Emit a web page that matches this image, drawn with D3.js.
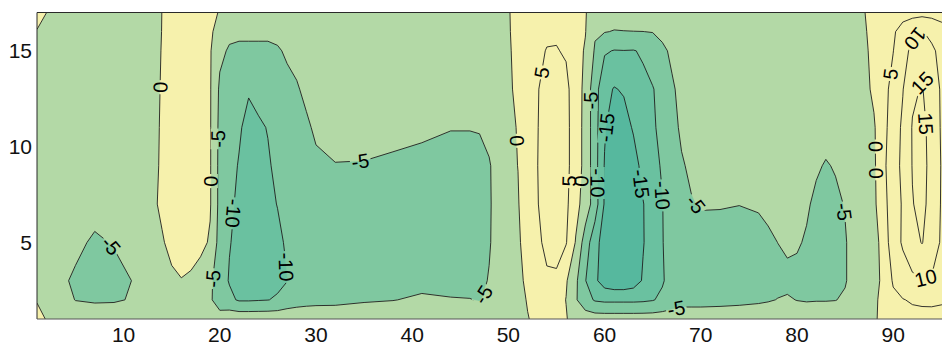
<!DOCTYPE html>
<html>
<head>
<meta charset="utf-8">
<script src="https://cdn.jsdelivr.net/npm/d3@7"></script>
<style>
  html, body { margin: 0; padding: 0; background: #ffffff; }
  svg { display: block; font-family: "Liberation Sans", Arial, sans-serif; }
</style>
</head>
<body>
<svg id="chart" width="942" height="347"></svg>
<script>
// Sample positions of the field
const xs = [1, 3, 5, 7, 9, 11, 13, 14, 15, 16, 17, 18, 19, 20, 21, 22, 23, 24, 25, 26, 27, 28, 29, 30,
            32, 35, 38, 41, 44, 46, 47, 48, 49, 50, 51, 52, 53, 54, 55, 56, 57, 58, 59, 60, 61, 62,
            63, 64, 65, 66, 67, 68, 69, 70, 72, 74, 76, 77, 78, 79, 80, 81, 82, 83, 84, 85, 86, 87,
            88, 89, 90, 91, 92, 93, 94, 95, 96];
const ys = [1, 2, 3, 5, 7, 9, 11, 13, 15, 16, 17];

// One column per x position, values listed from y = 1 up to y = 17
const zColumns = [
  [1.5, -0.3, -2, -2.5, -2.5, -2.5, -2.5, -2.5, -2, -0.2, 1.5],        // 1
  [-2, -3, -3.2, -3, -2.5, -2.5, -2.5, -2.5, -2.5, -2, -1.5],          // 3
  [-2.5, -5.1, -6, -3.5, -2.5, -2.5, -2.5, -2.5, -2.5, -2.5, -2.5],    // 5
  [-2.5, -5.5, -7.5, -6, -2.5, -2.5, -2.5, -2.5, -2.5, -2.5, -2.5],    // 7
  [-2.5, -5.4, -7, -4.6, -2.5, -2.5, -2.5, -2.5, -2.5, -2.5, -2.5],    // 9
  [-2.5, -4.7, -4.8, -3, -2.5, -2.5, -2.5, -2.5, -2.5, -2.5, -2.5],    // 11
  [-2.5, -2.5, -2.5, -2, -1, -1.5, -1.5, -1.5, -1.5, -1.8, -2],        // 13
  [-2.5, -2, -1.5, -0.5, 1, 0.8, 0.6, 0.4, 0.2, 0.1, 0.05],            // 14
  [-2.5, -2, -1, 1.5, 2, 2, 2, 2, 1.8, 1.5, 1.5],                      // 15
  [-2.5, -1.5, -0.2, 2.5, 2.5, 2.5, 2.5, 2.5, 2.3, 2, 2],              // 16
  [-2.5, -1.8, -0.8, 2.2, 2.5, 2.5, 2.5, 2.5, 2.3, 2.2, 2],            // 17
  [-2.5, -2.5, -2, 1.2, 2, 2, 2, 2, 2, 2, 2],                          // 18
  [-2.5, -4.2, -4, -0.5, 0.4, 0.4, 0.4, 0.4, 0.4, 0.6, 2],             // 19
  [-2.5, -8, -8, -7, -6.5, -6.5, -6.3, -5.8, -4, -1.5, -0.5],          // 20
  [-1.5, -9, -10.3, -9.8, -9.4, -9, -8.5, -7.5, -5.5, -4, -3],         // 21
  [-1.5, -10.5, -11.2, -11, -10.6, -10.2, -9.6, -8, -6, -4, -3],       // 22
  [-1.5, -10.5, -12, -12.5, -12, -11.5, -11, -9.7, -6, -4, -3],        // 23
  [-1.5, -10.3, -12, -12.3, -11.8, -11, -10.7, -8.5, -6, -4, -3],      // 24
  [-1.5, -10.1, -11.5, -11.5, -10.8, -10.5, -9.8, -7.5, -6, -4, -3],   // 25
  [-1.5, -9.5, -11, -10.8, -9.9, -9, -8, -6.5, -5.4, -4, -3],          // 26
  [-1.5, -8, -10.1, -9.5, -8.5, -7.5, -7, -6, -4.5, -3.5, -3],         // 27
  [-1.8, -7, -8, -8, -7.5, -7, -6.5, -5.3, -4, -3.2, -3],              // 28
  [-2, -6.5, -7, -7, -6.8, -6.5, -5.5, -4.3, -3.5, -3, -3],            // 29
  [-2, -6.3, -6.8, -6.8, -6.5, -5.6, -4.5, -3.8, -3, -3, -3],          // 30
  [-2.5, -6, -6.5, -6.5, -6.2, -5.1, -4, -3.5, -3, -3, -3],            // 32
  [-2.5, -5.4, -6.5, -6.8, -6.5, -5.15, -4, -3.5, -3, -3, -3],         // 35
  [-2.5, -5.1, -6.3, -6.8, -6.5, -5.4, -4.3, -3.5, -3, -3, -3],        // 38
  [-2.5, -4.5, -6, -6.8, -6.8, -5.6, -4.6, -3.5, -3, -3, -3],          // 41
  [-2.5, -4.8, -6.2, -6.8, -6.8, -6, -4.9, -3.8, -3, -3, -3],          // 44
  [-2.5, -4.9, -6.2, -6.8, -6.8, -6, -4.9, -3.8, -3, -3, -3],          // 46
  [-2.5, -5.2, -5.8, -6.2, -6.2, -6, -4.8, -3.5, -3, -3, -3],          // 47
  [-2.5, -4.3, -4.8, -5.3, -5.4, -5.3, -4, -3.2, -3, -2.5, -2],        // 48
  [-2.5, -3, -3.5, -3.5, -3.5, -3.5, -3, -3, -2.5, -2, -1.5],          // 49
  [-3, -2.5, -2, -1.5, -1.2, -1, -0.8, -0.6, -0.5, -0.4, -0.3],        // 50
  [-2, -1.5, -1.2, -0.7, -0.3, 0.05, 0.2, 0.8, 1.2, 1.5, 1.5],         // 51
  [-0.2, 0.3, 1, 2, 2.8, 3, 3, 3, 2.8, 2.5, 2],                        // 52
  [1, 2, 3, 4.3, 4.8, 4.9, 4.8, 4.7, 4, 3.5, 3],                       // 53
  [1.5, 3, 4.5, 5.8, 6.5, 6.8, 6.8, 6.5, 5.2, 4.2, 3.5],               // 54
  [0.3, 1.8, 4.3, 6.5, 7, 7.2, 7.2, 7, 5.2, 4.5, 3.5],                 // 55
  [0.3, -0.1, 0.5, 5.3, 6, 6.3, 6.3, 6, 4.6, 3.5, 3],                  // 56
  [-2, -4.5, -4, -0.3, 1.5, 2.5, 2.5, 2.8, 2, 1.5, 1.5],               // 57
  [-2.5, -8, -9.8, -7.5, -2, -1.5, -1.5, -1.5, -0.5, 0.2, 0.3],        // 58
  [-2.5, -10.5, -14, -13, -7.5, -8, -8, -8, -5.5, -4.5, -2.5],         // 59
  [-2.5, -11, -17.5, -17.5, -15.5, -15.3, -14.5, -13.5, -9.5, -4.8, -3], // 60
  [-2.5, -11, -18.5, -19, -19, -18.5, -18, -15.3, -10.2, -5.2, -3],    // 61
  [-2.5, -11, -18.5, -19, -19, -18.5, -17, -14.5, -10.1, -5.1, -3],    // 62
  [-2.5, -11, -17.5, -18, -18, -17, -14.5, -12.5, -10.2, -5.05, -3],   // 63
  [-2.5, -10.8, -14.5, -15.3, -15.2, -13.5, -12, -11, -9.5, -5.02, -3],// 64
  [-2.5, -10.3, -12, -12.5, -12.5, -11.5, -10.5, -10.3, -7, -4.9, -3], // 65
  [-2.5, -9, -10.5, -10.3, -10.2, -9.5, -9, -8, -5.8, -4, -3],         // 66
  [-2.5, -7.5, -8, -7, -6.5, -6.5, -6, -5.5, -4.3, -3, -3],            // 67
  [-2.5, -6.5, -7, -6, -5.5, -5.3, -4.5, -4, -3, -2.5, -2.5],          // 68
  [-2.5, -6.5, -6.8, -6, -5.2, -4.5, -3.5, -3, -2.8, -2.5, -2.5],      // 69
  [-2.5, -6.5, -6.8, -6, -4.8, -3.5, -3, -3, -2.8, -2.5, -2.5],        // 70
  [-2.5, -6.3, -6.7, -6.2, -4.8, -3.2, -3, -3, -2.8, -2.5, -2.5],      // 72
  [-2.5, -6, -6.5, -6.2, -4.95, -3, -3, -3, -2.8, -2.5, -2.5],         // 74
  [-2.5, -5.6, -6.2, -6, -4.7, -3, -3, -3, -2.8, -2.5, -2.5],          // 76
  [-2.5, -5.3, -6.1, -5.6, -4.2, -3, -3, -3, -2.8, -2.5, -2.5],        // 77
  [-2.5, -4.9, -6, -4.98, -3.8, -3, -3, -3, -2.8, -2.5, -2.5],         // 78
  [-2.5, -4.6, -6, -4.3, -3.5, -3, -3, -3, -2.8, -2.5, -2.5],          // 79
  [-2.5, -5.1, -6, -4.6, -3.8, -3, -3, -3, -2.8, -2.5, -2.5],          // 80
  [-2.5, -5.3, -6, -5.4, -4.5, -3.5, -3, -3, -2.8, -2.5, -2.5],        // 81
  [-2.5, -5.2, -6, -5.8, -5.8, -4.5, -3.2, -3, -2.8, -2.5, -2.5],      // 82
  [-2.5, -5.2, -6, -6, -6, -5.3, -3.5, -3, -2.8, -2.5, -2.5],          // 83
  [-2.5, -5.1, -5.8, -5.8, -5.8, -4.7, -3.2, -3, -2.8, -2.5, -2.5],    // 84
  [-2.5, -4.5, -5.3, -5.3, -4.8, -4.2, -3, -2.8, -2.8, -2.5, -2.5],    // 85
  [-2.5, -3, -3.5, -3.5, -3, -3, -2.8, -2.5, -2.2, -2, -1.5],          // 86
  [-2, -1.8, -2.5, -2, -2.2, -2, -1.8, -1.2, -0.8, -0.5, -0.15],       // 87
  [-0.5, -0.8, -1.8, -2, -1, -0.8, -0.5, 0.8, 1.2, 1.5, 1.8],          // 88
  [1, 1.2, 1.2, 2, 3.5, 4, 3.5, 3.5, 3.2, 3, 2.8],                     // 89
  [2, 4, 5.5, 8, 7.5, 8, 7.5, 6.5, 4.9, 4.5, 3],                       // 90
  [3, 4.8, 8, 10.5, 10.5, 11, 10.8, 9.8, 8.5, 6.5, 3.5],               // 91
  [3.5, 5.5, 9, 13.5, 14.8, 15.2, 15.3, 14.2, 11, 8.5, 3.5],           // 92
  [3.5, 5.8, 9.8, 15.2, 16.3, 16.5, 16.5, 15.3, 13.5, 10.3, 3.5],      // 93
  [3.6, 5.8, 9.6, 12.5, 13.2, 13.5, 13, 12.5, 11, 8.5, 3.5],           // 94
  [3.6, 5.5, 8.5, 9.5, 9.7, 9.8, 9.6, 9.5, 8.5, 6.5, 3.5],             // 95
  [3.5, 5.2, 7, 7, 7, 7, 7, 7, 6.5, 5.5, 3.5]                          // 96
];

// Contour levels and the fill used above each of them
const levels = [-15, -10, -5, 0, 5, 10, 15];
const belowColor = "#56b89e";
const levelColors = ["#6ac1a0", "#7fc8a0", "#b3d9a6", "#f6f1ac", "#f6f1ac", "#f6f1ac", "#f6f1ac"];

const xTicks = [10, 20, 30, 40, 50, 60, 70, 80, 90];
const yTicks = [5, 10, 15];

// Inline contour labels: level, approximate spot and preferred text direction
const labelLevels = [0, -5, 0, -10, -5, -10, -5, -5, -5, 0, 5, -5, -15, 5, 0, -10, -15, -10, -5, -5, -5, 0, 0, 5, 10, 15, 15, 10];
const labelX = [13.8, 20.0, 19.1, 21.8, 19.4, 26.6, 8.4, 34.6, 47.2, 50.8, 53.1, 58.6, 60.1, 56.4, 57.5, 59.3, 63.6, 65.8, 69.2, 67.5, 84.9, 88.0, 88.1, 89.5, 92.4, 93.0, 93.5, 93.4];
const labelY = [13.1, 10.4, 8.2, 6.5, 3.1, 3.7, 4.7, 9.3, 2.3, 10.3, 13.9, 12.4, 11.0, 8.2, 8.2, 8.1, 8.05, 7.45, 6.9, 1.45, 6.6, 10.0, 8.6, 13.8, 15.6, 13.7, 11.2, 3.1];
const labelDir = [-90, -90, -90, 90, -90, 90, 60, -30, -70, -90, -90, -90, -90, -90, -90, 90, 90, 90, 60, 0, 90, -90, -90, -90, 40, 10, 90, -20];

// ---------------------------------------------------------------
const W = 942, H = 347;
const plotLeft = 37, plotTop = 12.5, plotBottom = 319;
const x = d3.scaleLinear().domain([1, 96]).range([plotLeft, plotLeft + 95 * 9.62]);
const y = d3.scaleLinear().domain([1, 17]).range([plotBottom, plotTop]);

const svg = d3.select("#chart");
const n = xs.length, m = ys.length;

// row-major grid for d3.contours (row 0 = y of 1)
const values = new Array(n * m);
for (let j = 0; j < m; j++) for (let i = 0; i < n; i++) values[j * n + i] = zColumns[i][j];

function idxToData(f, arr) {
  const last = arr.length - 1;
  f = Math.max(0, Math.min(last, f));
  const i = Math.min(last - 1, Math.floor(f));
  return arr[i] + (f - i) * (arr[i + 1] - arr[i]);
}
// contour grid coordinates -> pixels (sample k sits at k + 0.5)
function toPx(cx, cy) {
  return [x(idxToData(cx - 0.5, xs)), y(idxToData(cy - 0.5, ys))];
}

const contours = d3.contours().size([n, m]).thresholds(levels)(values);

const defs = svg.append("defs");
defs.append("clipPath").attr("id", "plotClip")
  .append("rect").attr("x", plotLeft).attr("y", plotTop)
  .attr("width", W - plotLeft).attr("height", plotBottom - plotTop);

const plot = svg.append("g").attr("clip-path", "url(#plotClip)");

plot.append("rect").attr("x", plotLeft).attr("y", plotTop)
  .attr("width", W - plotLeft).attr("height", plotBottom - plotTop)
  .attr("fill", belowColor);

const projection = d3.geoTransform({
  point: function (px, py) { const p = toPx(px, py); this.stream.point(p[0], p[1]); }
});
const path = d3.geoPath(projection);

plot.append("g").selectAll("path")
  .data(contours)
  .join("path")
  .attr("d", path)
  .attr("fill", (d, i) => levelColors[i])
  .attr("stroke", (d, i) => levelColors[i])
  .attr("stroke-width", 0.4);

// contour lines: polygon rings without the pieces lying on the grid border
function ringToLines(ring) {
  const side = p => [p[0] <= 0.5, p[0] >= n - 0.5, p[1] <= 0.5, p[1] >= m - 0.5];
  const lines = [];
  let cur = [];
  for (let k = 0; k < ring.length - 1; k++) {
    const a = ring[k], b = ring[k + 1];
    const sa = side(a), sb = side(b);
    const onBorder = (sa[0] && sb[0]) || (sa[1] && sb[1]) || (sa[2] && sb[2]) || (sa[3] && sb[3]);
    if (onBorder) {
      if (cur.length > 1) lines.push(cur);
      cur = [];
    } else {
      if (cur.length === 0) cur.push(a);
      cur.push(b);
    }
  }
  if (cur.length > 1) lines.push(cur);
  if (lines.length > 1) {
    const first = lines[0], lastL = lines[lines.length - 1];
    const e = lastL[lastL.length - 1], s = first[0];
    if (e[0] === s[0] && e[1] === s[1]) {
      lines[0] = lastL.concat(first.slice(1));
      lines.pop();
    }
  }
  return lines.map(l => l.map(p => toPx(p[0], p[1])));
}

const linesByLevel = {};
contours.forEach(c => {
  const ls = [];
  c.coordinates.forEach(poly => poly.forEach(ring => ringToLines(ring).forEach(l => ls.push(l))));
  linesByLevel[c.value] = ls;
});

// point at a given arc length along a polyline (with its cumulative lengths)
function pointAlong(line, cum, s) {
  s = Math.max(0, Math.min(cum[cum.length - 1], s));
  let i = 0;
  while (i < cum.length - 2 && cum[i + 1] < s) i++;
  const seg = cum[i + 1] - cum[i];
  const t = seg > 0 ? (s - cum[i]) / seg : 0;
  return [line[i][0] + t * (line[i + 1][0] - line[i][0]), line[i][1] + t * (line[i + 1][1] - line[i][1])];
}

// labels: snap to the nearest point on the level's line, turned along the chord the text spans
const labelFont = 20;
const labels = [];
labelLevels.forEach((lv, k) => {
  const tx = x(labelX[k]), ty = y(labelY[k]);
  let best = null;
  (linesByLevel[lv] || []).forEach(line => {
    for (let i = 0; i < line.length - 1; i++) {
      const a = line[i], b = line[i + 1];
      const dx = b[0] - a[0], dy = b[1] - a[1];
      const len2 = dx * dx + dy * dy;
      let t = len2 > 0 ? ((tx - a[0]) * dx + (ty - a[1]) * dy) / len2 : 0;
      t = Math.max(0, Math.min(1, t));
      const px = a[0] + t * dx, py = a[1] + t * dy;
      const dd = (px - tx) ** 2 + (py - ty) ** 2;
      if (!best || dd < best.dd) best = { dd, px, py, line, i, t };
    }
  });
  if (!best) return;
  const L = best.line;
  const cum = [0];
  for (let i = 1; i < L.length; i++) cum.push(cum[i - 1] + Math.hypot(L[i][0] - L[i - 1][0], L[i][1] - L[i - 1][1]));
  const s0 = cum[best.i] + best.t * (cum[best.i + 1] - cum[best.i]);
  const half = String(lv).length * labelFont * 0.3;
  const pa = pointAlong(L, cum, s0 - half), pb = pointAlong(L, cum, s0 + half);
  let ang = Math.atan2(pb[1] - pa[1], pb[0] - pa[0]) * 180 / Math.PI;
  const diff = a => { let d = ((a - labelDir[k]) % 360 + 540) % 360 - 180; return Math.abs(d); };
  if (diff(ang + 180) < diff(ang)) ang += 180;
  if (ang > 180) ang -= 360;
  labels.push({ text: String(lv), px: best.px, py: best.py, ang });
});

const labelG = svg.append("g").attr("class", "clabels");
const texts = labelG.selectAll("text").data(labels).join("text")
  .attr("transform", d => `translate(${d.px},${d.py}) rotate(${d.ang})`)
  .attr("text-anchor", "middle")
  .attr("dy", "0.36em")
  .attr("font-size", labelFont)
  .attr("fill", "#000")
  .text(d => d.text);

// gaps in the lines under each label
const mask = defs.append("mask").attr("id", "labelGaps").attr("maskUnits", "userSpaceOnUse")
  .attr("x", 0).attr("y", 0).attr("width", W).attr("height", H);
mask.append("rect").attr("x", 0).attr("y", 0).attr("width", W).attr("height", H).attr("fill", "#fff");
texts.each(function (d) {
  const w = this.getComputedTextLength() + 3;
  const h = labelFont * 0.72;
  mask.append("rect")
    .attr("x", -w / 2).attr("y", -h / 2).attr("width", w).attr("height", h)
    .attr("transform", `translate(${d.px},${d.py}) rotate(${d.ang})`)
    .attr("fill", "#000");
});

const lineGen = d3.line();
const lineG = plot.append("g").attr("mask", "url(#labelGaps)");
Object.keys(linesByLevel).forEach(lv => {
  lineG.append("g").selectAll("path").data(linesByLevel[lv]).join("path")
    .attr("d", lineGen)
    .attr("fill", "none")
    .attr("stroke", "#1e1e1e")
    .attr("stroke-width", 0.9)
    .attr("stroke-linejoin", "round");
});

labelG.raise();

// axes box (left, top, bottom)
const axisG = svg.append("g").attr("stroke", "#2a2a2a").attr("stroke-width", 1).attr("fill", "none");
axisG.append("line").attr("x1", plotLeft).attr("x2", plotLeft).attr("y1", plotTop).attr("y2", plotBottom);
axisG.append("line").attr("x1", plotLeft).attr("x2", W).attr("y1", plotTop).attr("y2", plotTop);
axisG.append("line").attr("x1", plotLeft).attr("x2", W).attr("y1", plotBottom).attr("y2", plotBottom)
  .attr("stroke", "#555");

svg.append("g").selectAll("text").data(xTicks).join("text")
  .attr("x", d => x(d)).attr("y", 342)
  .attr("text-anchor", "middle")
  .attr("font-size", 21)
  .attr("fill", "#111")
  .text(d => d);

svg.append("g").selectAll("text").data(yTicks).join("text")
  .attr("x", 32).attr("y", d => y(d))
  .attr("dy", "0.36em")
  .attr("text-anchor", "end")
  .attr("font-size", 21)
  .attr("fill", "#111")
  .text(d => d);
</script>
</body>
</html>
